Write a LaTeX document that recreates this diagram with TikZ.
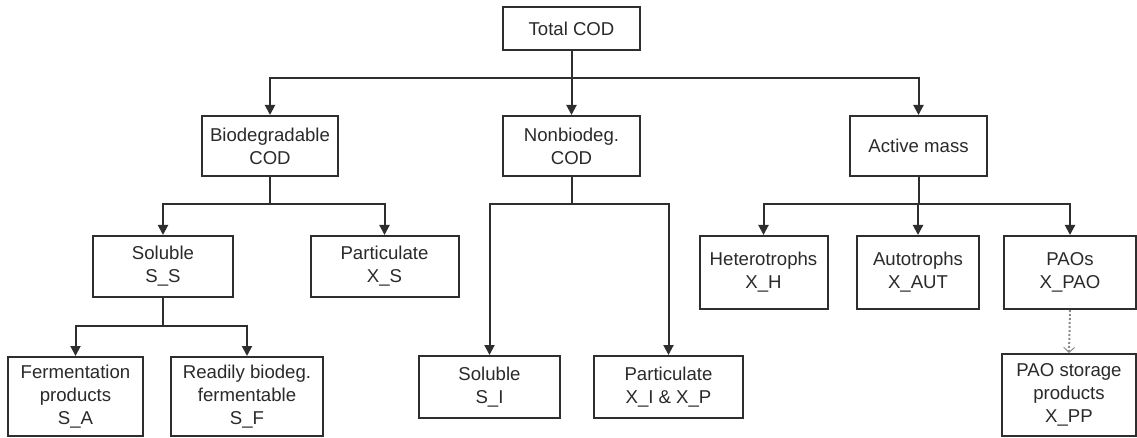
\documentclass[tikz,border=0pt]{standalone}
\usepackage{fontspec}
\setmainfont{Liberation Sans}
\usetikzlibrary{arrows.meta}
\definecolor{ln}{HTML}{2E2E2E}
\definecolor{tx}{HTML}{2A2A2A}
\definecolor{dt}{HTML}{8A8A8A}
\begin{document}
\begin{tikzpicture}[x=1pt,y=-1pt,
  box/.style={draw=ln,line width=2pt,fill=white,text=tx,align=center,inner sep=0pt,
    font=\fontsize{18.6}{23}\selectfont},
  conn/.style={draw=ln,line width=2pt},
  arr/.style={conn,-{Triangle[length=10pt,width=10pt]}},
  dotarr/.style={draw=dt,line width=2pt,dotted,-{Straight Barb[length=5pt,width=11pt,line width=1pt]}}
]
\useasboundingbox (0,0) rectangle (1137,438);
% nodes
\node[box,minimum width=137pt,minimum height=43pt] (tot) at (571.5,28.5) {Total COD};
\node[box,minimum width=136pt,minimum height=60pt] (bio) at (270,146) {Biodegradable\\COD};
\node[box,minimum width=137pt,minimum height=60pt] (nbio) at (571.5,146) {Nonbiodeg.\\COD};
\node[box,minimum width=137pt,minimum height=60pt] (act) at (918.5,146) {Active mass};
\node[box,minimum width=140pt,minimum height=61pt] (ss) at (163,266.5) {Soluble\\S\_S};
\node[box,minimum width=148pt,minimum height=61pt] (xs) at (384.5,266.5) {Particulate\\X\_S};
\node[box,minimum width=135pt,minimum height=79pt] (sa) at (75.5,396.5) {Fermentation\\products\\S\_A};
\node[box,minimum width=152pt,minimum height=79pt] (sf) at (247,396.5) {Readily biodeg.\\fermentable\\S\_F};
\node[box,minimum width=141pt,minimum height=62pt] (si) at (489.5,387) {Soluble\\S\_I};
\node[box,minimum width=149pt,minimum height=62pt] (xi) at (668.5,387) {Particulate\\X\_I \& X\_P};
\node[box,minimum width=128pt,minimum height=73pt] (xh) at (763.5,272.5) {Heterotrophs\\X\_H};
\node[box,minimum width=122pt,minimum height=73pt] (xaut) at (918,272.5) {Autotrophs\\X\_AUT};
\node[box,minimum width=132pt,minimum height=73pt] (pao) at (1070,272.5) {PAOs\\X\_PAO};
\node[box,minimum width=134pt,minimum height=82pt] (pp) at (1069,395) {PAO storage\\products\\X\_PP};
% bus levels
\coordinate (b1) at (0,78);
\coordinate (b2) at (0,204);
\coordinate (b3) at (0,326);
% connectors
\foreach \c in {bio,nbio,act}
  \draw[arr] (tot.south) |- (\c.north |- b1) -- (\c.north);
\foreach \c in {ss,xs}
  \draw[arr] (bio.south) |- (\c.north |- b2) -- (\c.north);
\foreach \c in {si,xi}
  \draw[arr] (nbio.south) |- (\c.north |- b2) -- (\c.north);
\foreach \c in {xh,xaut,pao}
  \draw[arr] (act.south) |- (\c.north |- b2) -- (\c.north);
\foreach \c in {sa,sf}
  \draw[arr] (ss.south) |- (\c.north |- b3) -- (\c.north);
\draw[dotarr] (pao.south) -- (pp.north);
\end{tikzpicture}
\end{document}
